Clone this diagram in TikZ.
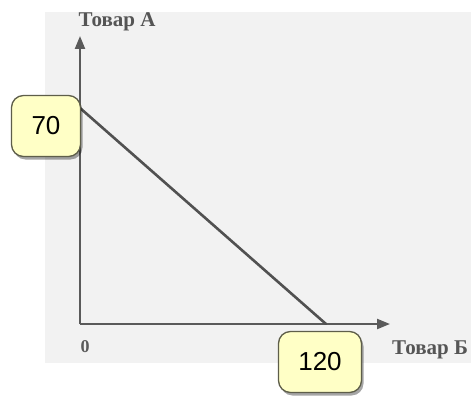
\documentclass[tikz,border=0pt]{standalone}
\usepackage{fontspec}
\setmainfont{Liberation Serif}
\newfontfamily\boxfont{Liberation Sans}
\usetikzlibrary{arrows.meta,shadows}
\definecolor{axisgray}{HTML}{5A5A5A}
\definecolor{labgray}{HTML}{555555}
\definecolor{boxfill}{HTML}{FFFFC6}
\definecolor{boxedge}{HTML}{5E5E4A}
\definecolor{bggray}{HTML}{F2F2F2}
\tikzset{
  px/.style={x=1pt,y=-1pt},
  axis/.style={draw=axisgray,line width=2.2pt,-{Triangle[length=13pt,width=10pt]}},
  budget/.style={draw=axisgray!90!black,line width=2.6pt},
  valbox/.style={draw=boxedge,line width=1.3pt,fill=boxfill,rounded corners=12pt,
    minimum width=69pt,minimum height=61pt,inner sep=0pt,
    font=\boxfont\fontsize{26}{26}\selectfont,
    drop shadow={shadow xshift=2pt,shadow yshift=-3pt,fill=black,opacity=0.35}},
  axlabel/.style={font=\bfseries\fontsize{21}{21}\selectfont,text=labgray,inner sep=0pt},
}
\begin{document}
\begin{tikzpicture}[px]
\useasboundingbox (0,0) rectangle (471,396);
\fill[white] (0,0) rectangle (471,396);
\fill[bggray] (45,12) rectangle (471,363);
\coordinate (O) at (80,324);
\coordinate (ytip) at (80,36);
\coordinate (xtip) at (390,324);
\coordinate (A) at (80,108);
\coordinate (B) at (326,324);
\draw[axis] (O) -- (ytip);
\draw[axis] (O) -- (xtip);
\draw[budget,line cap=round] (A) -- (B);
\node[valbox] (b70) at (46,126) {70};
\node[valbox,minimum width=83pt] (b120) at (320,362) {120};
\node[axlabel] (ya) at (117,22) {Товар А};
\node[axlabel,anchor=west] (xb) at (392,350) {Товар Б};
\node[axlabel,font=\bfseries\fontsize{18}{18}\selectfont,text=axisgray] (zero) at (85,347) {0};
\end{tikzpicture}
\end{document}
